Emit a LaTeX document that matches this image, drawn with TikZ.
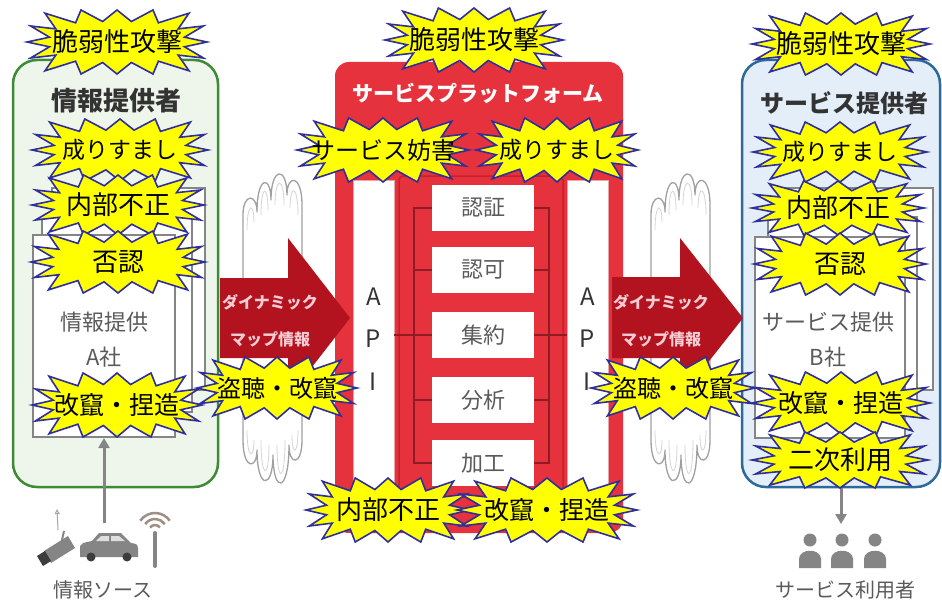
\documentclass[tikz,border=0pt]{standalone}
\usepackage{fontspec}
\setmainfont{Noto Sans CJK JP}
\usetikzlibrary{arrows.meta,calc}

\definecolor{provgreen}{HTML}{3E8B35}
\definecolor{provfill}{HTML}{EEF6EC}
\definecolor{svcblue}{HTML}{2D6A9A}
\definecolor{svcfill}{HTML}{E3EEF8}
\definecolor{platred}{HTML}{E5323C}
\definecolor{framered}{HTML}{C71F2B}
\definecolor{arrowred}{HTML}{B3121F}
\definecolor{busred}{HTML}{8E1C22}
\definecolor{burstyellow}{HTML}{FFFF00}
\definecolor{burstblue}{HTML}{2E2E9E}
\definecolor{boxgray}{HTML}{858585}
\definecolor{textgray}{HTML}{5A5A5A}
\definecolor{titlegray}{HTML}{333333}
\definecolor{cloudgray}{HTML}{A0A0A0}
\definecolor{wavebrown}{HTML}{9E8E84}
\definecolor{maptext}{HTML}{F7CCD3}
\definecolor{icongray}{HTML}{858585}
\definecolor{icondark}{HTML}{3C3C3C}

\newcommand\jpsize[1]{\fontsize{#1}{#1}\selectfont}

\tikzset{
  panel/.style={rounded corners=24, line width=2.5, inner sep=0},
  provpanel/.style={panel, draw=provgreen, fill=provfill},
  svcpanel/.style={panel, draw=svcblue, fill=svcfill},
  paneltitle/.style={text=titlegray, font=\jpsize{26}\bfseries, inner sep=0},
  stackbox/.style={draw=boxgray, fill=white, line width=2, inner sep=0},
  boxlabel/.style={text=textgray, align=center, font=\fontsize{22}{35}\selectfont, inner sep=0},
  platform/.style={fill=platred, rounded corners=14, inner sep=0},
  plattitle/.style={text=white, font=\jpsize{21}\bfseries, inner sep=0},
  innerframe/.style={draw=framered, line width=1.5, rounded corners=4},
  apicol/.style={fill=white, draw=framered!40, line width=0.8, minimum width=41, minimum height=310, inner sep=0},
  apiletter/.style={text=titlegray, font=\jpsize{24}, inner sep=0},
  module/.style={fill=white, minimum width=102, minimum height=46, inner sep=0, text=textgray, font=\jpsize{22}},
  bus/.style={draw=busred, line width=2},
  maparrow/.style={fill=arrowred},
  maplabel/.style={text=maptext, align=center, font=\fontsize{16}{37}\selectfont\bfseries, inner sep=0},
  cloud/.style={fill=white, draw=cloudgray, line width=1.3, line join=round},
  cloudinner/.style={draw=cloudgray!45, line width=0.8},
  flowarrow/.style={draw=icongray, line width=3, -{Triangle[length=10,width=11]}},
  caption/.style={text=textgray, font=\jpsize{20}, inner sep=0},
  burstshape/.style={fill=burstyellow, draw=burstblue, line width=1.6, line join=miter},
  bursttext/.style={text=black, inner sep=0}
}

% starburst: name, x, y, half width, half height, font size, text
\newcommand\burst[7]{%
  \begin{scope}[shift={(#2,#3)},xscale=#4,yscale=#5]
    \filldraw[burstshape] (1,0) -- (.75,.15) -- (.96,.50) -- (.68,.41) -- (.80,.90) -- (.46,.60)
      -- (.40,1) -- (.16,.64) -- (0,1) -- (-.16,.64) -- (-.40,1) -- (-.46,.60) -- (-.80,.90)
      -- (-.68,.41) -- (-.96,.50) -- (-.75,.15) -- (-1,0) -- (-.75,-.15) -- (-.96,-.50) -- (-.68,-.41)
      -- (-.80,-.90) -- (-.46,-.60) -- (-.40,-1) -- (-.16,-.64) -- (0,-1) -- (.16,-.64) -- (.40,-1)
      -- (.46,-.60) -- (.80,-.90) -- (.68,-.41) -- (.96,-.50) -- (.75,-.15) -- cycle;
  \end{scope}
  \node[bursttext,font=\jpsize{#6}] (#1) at (#2,#3) {#7};
}

% vertical cloud with finger-like lobes above and below
\newcommand\cloudshape[1]{%
  \begin{scope}[xshift=#1]
    \filldraw[cloud] (243,440) -- (243,215)
      .. controls (243,193) and (257,193) .. (257,212)
      .. controls (257,175) and (271,175) .. (271,200)
      .. controls (271,166) and (287,166) .. (287,195)
      .. controls (287,174) and (302,174) .. (302,205)
      -- (302,440)
      .. controls (302,466) and (289,466) .. (289,445)
      .. controls (289,494) and (273,494) .. (273,455)
      .. controls (273,490) and (257,490) .. (257,450)
      .. controls (257,470) and (243,470) .. (243,440) -- cycle;
    \draw[cloudinner] (247,230) .. controls (247,202) and (254,202) .. (254,222);
    \draw[cloudinner] (261,215) .. controls (261,184) and (268,184) .. (268,210);
    \draw[cloudinner] (275,205) .. controls (275,176) and (284,176) .. (284,205);
    \draw[cloudinner] (290,208) .. controls (290,184) and (298,184) .. (298,215);
    \draw[cloudinner] (247,430) .. controls (247,460) and (254,460) .. (254,440);
    \draw[cloudinner] (261,440) .. controls (261,480) and (269,480) .. (269,445);
    \draw[cloudinner] (277,445) .. controls (277,484) and (285,484) .. (285,440);
    \draw[cloudinner] (292,435) .. controls (292,456) and (298,456) .. (298,430);
  \end{scope}
}

\begin{document}
\begin{tikzpicture}[x=1pt,y=-1pt]
\useasboundingbox (0,0) rectangle (942,607);
\fill[white] (0,0) rectangle (942,607);

% ---- information provider ----
\node[provpanel, minimum width=205, minimum height=427] (prov) at (115.5,273.5) {};
\node[paneltitle] (provTitle) at (116,101) {情報提供者};
\node[stackbox, minimum width=153, minimum height=202] (provBack) at (128.5,289) {};
\node[stackbox, minimum width=150, minimum height=195] (provMid) at (117,314.5) {};
\node[stackbox, minimum width=142, minimum height=202] (provFront) at (104,336) {};
\node[boxlabel] (provName) at (104,340) {情報提供\\A社};

% ---- service provider ----
\node[svcpanel, minimum width=198, minimum height=427] (svc) at (841,273.5) {};
\node[paneltitle, font=\jpsize{24}\bfseries] (svcTitle) at (844,103) {サービス提供者};
\node[stackbox, minimum width=153, minimum height=202] (svcBack) at (856.5,289) {};
\node[stackbox, minimum width=149, minimum height=195] (svcMid) at (842.5,314.5) {};
\node[stackbox, minimum width=150, minimum height=201] (svcFront) at (830,337.5) {};
\node[boxlabel] (svcName) at (828,340) {サービス提供\\B社};

% ---- clouds behind the map arrows ----
\cloudshape{0}
\cloudshape{408}

% ---- service platform ----
\node[platform, minimum width=288, minimum height=471] (plat) at (479,297.5) {};
\node[plattitle] (platTitle) at (478,93) {サービスプラットフォーム};
\draw[innerframe] (399,176) rectangle (563,497);
\node[apicol] (apiL) at (373.5,335) {};
\node[apicol] (apiR) at (587.5,335) {};
\node[apiletter] (apiLa) at (373.5,297) {A};
\node[apiletter] (apiLp) at (373.5,339) {P};
\node[apiletter] (apiLi) at (373.5,382) {I};
\node[apiletter] (apiRa) at (587.5,297) {A};
\node[apiletter] (apiRp) at (587.5,339) {P};
\node[apiletter] (apiRi) at (587.5,382) {I};

\node[module] (m1) at (483,208) {認証};
\node[module] (m2) at (483,270) {認可};
\node[module] (m3) at (483,335) {集約};
\node[module] (m4) at (483,400) {分析};
\node[module] (m5) at (483,463) {加工};

\draw[bus] (m1.west) -- ++(-18,0) |- (m5.west);
\draw[bus] (m2.west) -- ++(-18,0);
\draw[bus] (m4.west) -- ++(-18,0);
\draw[bus] (apiL.east |- m3.west) -- (m3.west);
\draw[bus] (m1.east) -- ++(15,0) |- (m5.east);
\draw[bus] (m2.east) -- ++(15,0);
\draw[bus] (m4.east) -- ++(15,0);
\draw[bus] (m3.east) -- (apiR.west |- m3.east);

% ---- dynamic map arrows ----
\fill[maparrow] (220,278) -- (288,278) -- (288,238) -- (350,318) -- (288,398) -- (288,358) -- (220,358) -- cycle;
\node[maplabel] (mapL) at (270,321) {ダイナミック\\マップ情報};
\fill[maparrow] (612,277) -- (680,277) -- (680,238) -- (743,318) -- (680,398) -- (680,358) -- (612,358) -- cycle;
\node[maplabel] (mapR) at (661,321) {ダイナミック\\マップ情報};

% ---- information sources ----
\fill[icongray] (44,551) -- (68,536) -- (75,548) -- (51,563) -- cycle;
\fill[icondark] (37,556) -- (45,551) -- (51,561) -- (43,566) -- cycle;
\draw[icongray, line width=2] (62,540) -- (64,531);
\draw[draw=gray!70, line width=1, -{Triangle[length=5,width=5,open]}] (58,530) -- (57,509);
\fill[icongray] (80,557) -- (80,546) .. controls (82,543) .. (92,541) -- (99,533) -- (121,533)
  -- (131,543) .. controls (137,544) .. (138,548) -- (138,557) -- cycle;
\fill[white!75!gray] (96,541) -- (101,536) -- (109,536) -- (109,541) -- cycle;
\fill[white!75!gray] (111,541) -- (111,536) -- (119,536) -- (125,541) -- cycle;
\fill[icondark] (91,557) circle (4.5);
\fill[icondark] (127,557) circle (4.5);
\draw[icongray, line width=4, line cap=round] (155,533) -- (155,566);
\draw[wavebrown, line width=2.5] (155,531) ++(215:6) arc[start angle=215, end angle=325, radius=6];
\draw[wavebrown, line width=2.5] (155,531) ++(215:12) arc[start angle=215, end angle=325, radius=12];
\draw[wavebrown, line width=2.5] (155,531) ++(215:18) arc[start angle=215, end angle=325, radius=18];
\coordinate (srcTop) at (104,523);
\draw[flowarrow] (srcTop) -- (provFront.south);
\node[caption] (srcCap) at (103,590) {情報ソース};

% ---- service users ----
\coordinate (usersTop) at (841,524);
\draw[flowarrow] (svc.south) -- (usersTop);
\foreach \px in {810,842,875}{
  \fill[icongray] (\px,540) circle (6.5);
  \fill[icongray] (\px-11,568) -- (\px-11,559) .. controls (\px-11,548) and (\px+11,548) .. (\px+11,559) -- (\px+11,568) -- cycle;
}
\node[caption] (usersCap) at (845,590) {サービス利用者};

% ---- threats ----
\burst{tL1}{117}{42}{90}{32}{26}{脆弱性攻撃}
\burst{tL2}{120}{150}{88}{31}{23}{成りすまし}
\burst{tL3}{118}{205}{86}{30}{26}{内部不正}
\burst{tL4}{118}{262}{87}{31}{26}{否認}
\burst{tL5}{117}{405}{85}{32}{25}{改竄・捏造}
\burst{tL6}{277}{388}{80}{31}{24}{盗聴・改竄}

\burst{tC1}{474}{40}{89}{32}{26}{脆弱性攻撃}
\burst{tC2}{383}{150}{86}{32}{24}{サービス妨害}
\burst{tC3}{557}{150}{81}{32}{23}{成りすまし}
\burst{tC4}{388}{510}{82}{32}{26}{内部不正}
\burst{tC5}{547}{510}{90}{32}{25}{改竄・捏造}

\burst{tR6}{673}{388}{82}{31}{24}{盗聴・改竄}
\burst{tR1}{841}{44}{89}{31}{26}{脆弱性攻撃}
\burst{tR2}{840}{152}{87}{30}{23}{成りすまし}
\burst{tR3}{838}{208}{86}{27}{26}{内部不正}
\burst{tR4}{840}{264}{86}{31}{26}{否認}
\burst{tR5}{841}{403}{89}{31}{25}{改竄・捏造}
\burst{tR7}{840}{460}{88}{28}{26}{二次利用}
\end{tikzpicture}
\end{document}
